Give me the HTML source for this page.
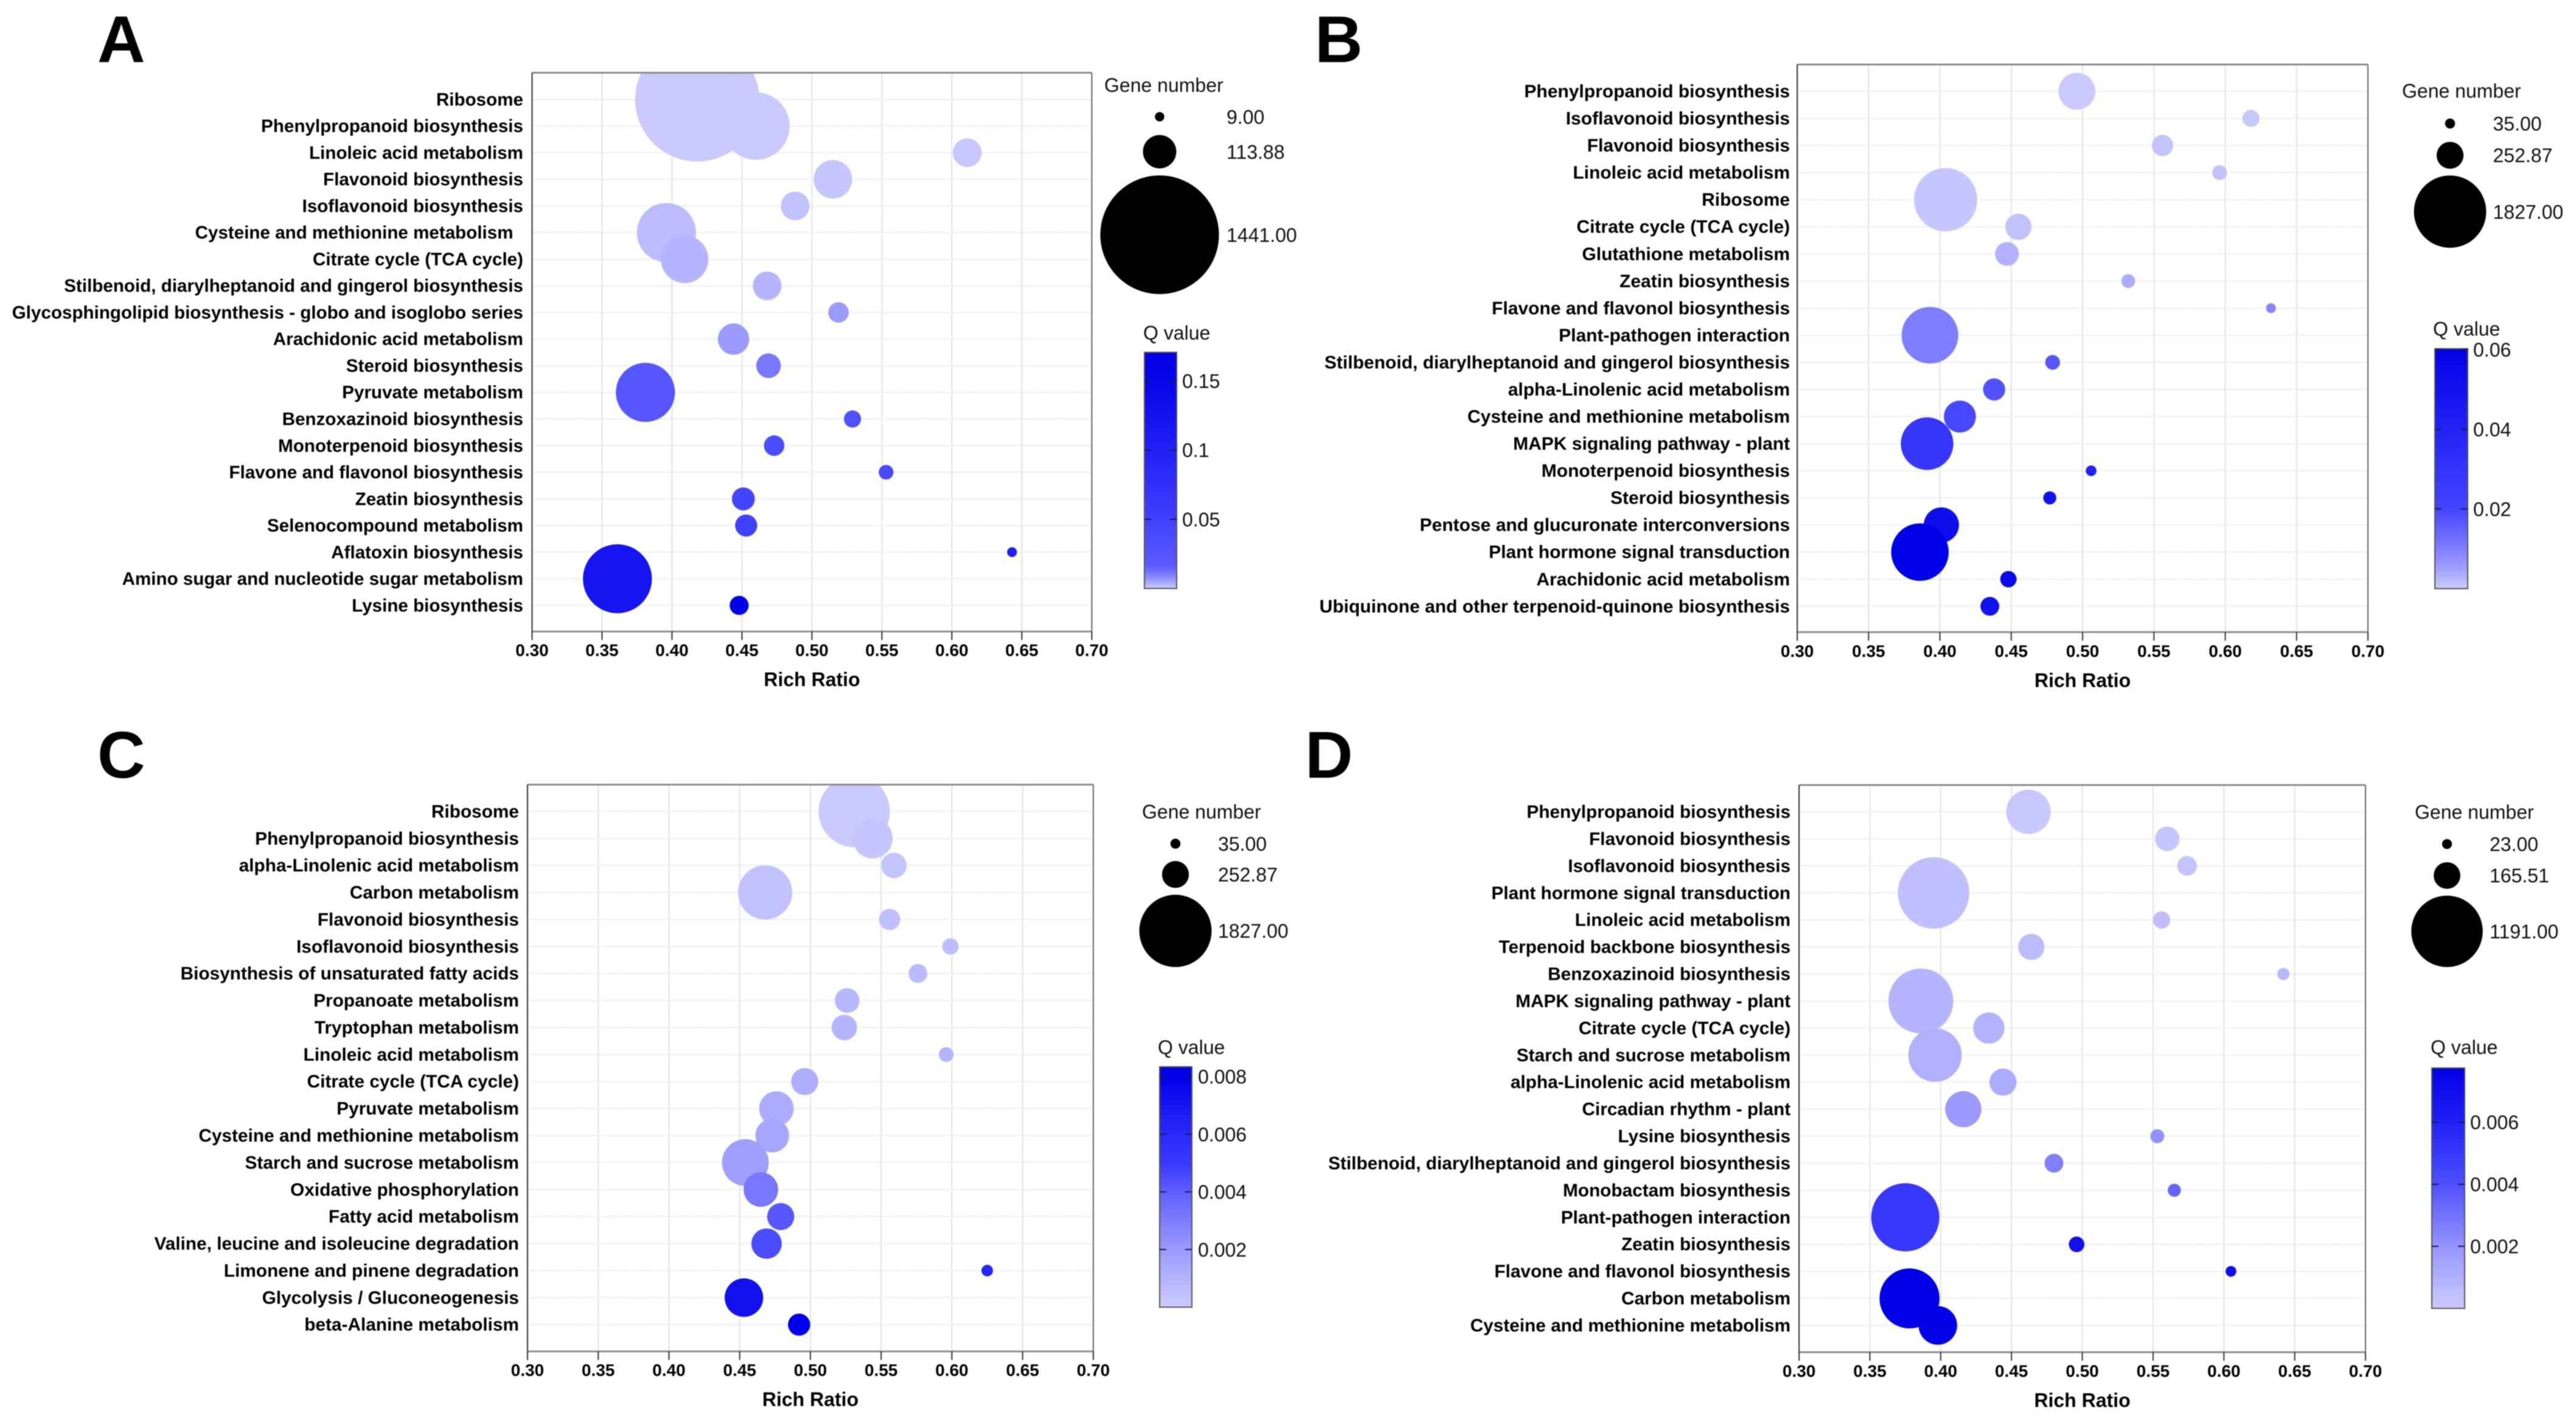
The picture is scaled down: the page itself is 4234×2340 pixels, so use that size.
<!DOCTYPE html>
<html>
<head>
<meta charset="utf-8">
<title>KEGG enrichment bubble charts</title>
<style>
html,body{margin:0;padding:0;background:#fff;}
#figure{display:block;filter:blur(0.7px);font-family:"Liberation Sans",Arial,sans-serif;}
</style>
</head>
<body>
<svg id="figure" xmlns="http://www.w3.org/2000/svg" width="4234" height="2340" viewBox="0 0 4234 2340">
<rect x="0" y="0" width="4234" height="2340" fill="#ffffff"/>
</svg>
<script>
// ---- shared axis ticks ----
var xTickValues = [0.30,0.35,0.40,0.45,0.50,0.55,0.60,0.65,0.70];
var xTickLabels = ["0.30","0.35","0.40","0.45","0.50","0.55","0.60","0.65","0.70"];

// ---- panel A ----
var categoriesA = ["Ribosome","Phenylpropanoid biosynthesis","Linoleic acid metabolism","Flavonoid biosynthesis","Isoflavonoid biosynthesis","Cysteine and methionine metabolism\u00a0\u00a0","Citrate cycle (TCA cycle)","Stilbenoid, diarylheptanoid and gingerol biosynthesis","Glycosphingolipid biosynthesis - globo and isoglobo series","Arachidonic acid metabolism","Steroid biosynthesis","Pyruvate metabolism","Benzoxazinoid biosynthesis","Monoterpenoid biosynthesis","Flavone and flavonol biosynthesis","Zeatin biosynthesis","Selenocompound metabolism","Aflatoxin biosynthesis","Amino sugar and nucleotide sugar metabolism","Lysine biosynthesis"];
var richRatioA = [0.418,0.460,0.611,0.515,0.488,0.396,0.409,0.468,0.519,0.444,0.469,0.381,0.529,0.473,0.553,0.451,0.453,0.643,0.361,0.448];
var geneCountA = [1575,465,84,152,84,358,232,84,43,100,62,358,30,43,22,54,50,10,487,37];
var qValueA = [0.0002,0.0003,0.0005,0.0007,0.0012,0.002,0.0028,0.0027,0.006,0.0062,0.0113,0.023,0.03,0.036,0.04,0.045,0.05,0.1,0.12,0.17];
var legendGenesA = [9,113.88,1441];
var legendLabelsA = ["9.00","113.88","1441.00"];
var qTickValuesA = [0.15,0.1,0.05];
var qTickLabelsA = ["0.15","0.1","0.05"];

// ---- panel B ----
var categoriesB = ["Phenylpropanoid biosynthesis","Isoflavonoid biosynthesis","Flavonoid biosynthesis","Linoleic acid metabolism","Ribosome","Citrate cycle (TCA cycle)","Glutathione metabolism","Zeatin biosynthesis","Flavone and flavonol biosynthesis","Plant-pathogen interaction","Stilbenoid, diarylheptanoid and gingerol biosynthesis","alpha-Linolenic acid metabolism","Cysteine and methionine metabolism","MAPK signaling pathway - plant","Monoterpenoid biosynthesis","Steroid biosynthesis","Pentose and glucuronate interconversions","Plant hormone signal transduction","Arachidonic acid metabolism","Ubiquinone and other terpenoid-quinone biosynthesis"];
var richRatioB = [0.496,0.618,0.556,0.596,0.404,0.455,0.447,0.532,0.632,0.393,0.479,0.438,0.414,0.391,0.506,0.477,0.401,0.386,0.448,0.435];
var geneCountB = [478,104,159,77,1400,241,198,68,34,1123,77,172,358,966,40,60,435,1157,94,124];
var qValueB = [0.0002,0.0004,0.0008,0.001,0.0006,0.0012,0.003,0.0035,0.009,0.0103,0.017,0.018,0.0195,0.028,0.04,0.05,0.052,0.06,0.055,0.05];
var legendGenesB = [35,252.87,1827];
var legendLabelsB = ["35.00","252.87","1827.00"];
var qTickValuesB = [0.06,0.04,0.02];
var qTickLabelsB = ["0.06","0.04","0.02"];

// ---- panel C ----
var categoriesC = ["Ribosome","Phenylpropanoid biosynthesis","alpha-Linolenic acid metabolism","Carbon metabolism","Flavonoid biosynthesis","Isoflavonoid biosynthesis","Biosynthesis of unsaturated fatty acids","Propanoate metabolism","Tryptophan metabolism","Linoleic acid metabolism","Citrate cycle (TCA cycle)","Pyruvate metabolism","Cysteine and methionine metabolism","Starch and sucrose metabolism","Oxidative phosphorylation","Fatty acid metabolism","Valine, leucine and isoleucine degradation","Limonene and pinene degradation","Glycolysis / Gluconeogenesis","beta-Alanine metabolism"];
var richRatioC = [0.531,0.544,0.559,0.468,0.556,0.599,0.576,0.526,0.524,0.596,0.496,0.476,0.473,0.454,0.465,0.479,0.469,0.625,0.453,0.492];
var geneCountC = [1783,564,228,1026,159,94,124,213,228,77,257,417,397,767,417,257,323,47,520,172];
var qValueC = [0.0001,0.0002,0.0003,0.0004,0.0005,0.0006,0.0007,0.0008,0.0009,0.001,0.0012,0.0013,0.0015,0.0018,0.0032,0.0042,0.0045,0.0062,0.0072,0.008];
var legendGenesC = [35,252.87,1827];
var legendLabelsC = ["35.00","252.87","1827.00"];
var qTickValuesC = [0.008,0.006,0.004,0.002];
var qTickLabelsC = ["0.008","0.006","0.004","0.002"];

// ---- panel D ----
var categoriesD = ["Phenylpropanoid biosynthesis","Flavonoid biosynthesis","Isoflavonoid biosynthesis","Plant hormone signal transduction","Linoleic acid metabolism","Terpenoid backbone biosynthesis","Benzoxazinoid biosynthesis","MAPK signaling pathway - plant","Citrate cycle (TCA cycle)","Starch and sucrose metabolism","alpha-Linolenic acid metabolism","Circadian rhythm - plant","Lysine biosynthesis","Stilbenoid, diarylheptanoid and gingerol biosynthesis","Monobactam biosynthesis","Plant-pathogen interaction","Zeatin biosynthesis","Flavone and flavonol biosynthesis","Carbon metabolism","Cysteine and methionine metabolism"];
var richRatioD = [0.462,0.560,0.574,0.395,0.556,0.464,0.642,0.386,0.434,0.396,0.444,0.416,0.553,0.480,0.565,0.375,0.496,0.605,0.378,0.398];
var geneCountD = [461,142,91,1192,70,161,35,983,228,667,172,305,46,83,40,1085,57,27,841,348];
var qValueD = [0.0001,0.0002,0.0003,0.0004,0.0005,0.0006,0.0007,0.0008,0.0009,0.001,0.0012,0.0018,0.0021,0.0026,0.0034,0.005,0.0068,0.007,0.0078,0.0077];
var legendGenesD = [23,165.51,1191];
var legendLabelsD = ["23.00","165.51","1191.00"];
var qTickValuesD = [0.006,0.004,0.002];
var qTickLabelsD = ["0.006","0.004","0.002"];

var SVGNS = "http://www.w3.org/2000/svg";
var root = document.getElementById("figure");

function mk(tag, attrs, parent) {
  var el = document.createElementNS(SVGNS, tag);
  for (var k in attrs) { el.setAttribute(k, attrs[k]); }
  parent.appendChild(el);
  return el;
}
function slug(s) {
  return s.toLowerCase().replace(/[^a-z0-9]+/g, "-").replace(/^-|-$/g, "");
}
function hex(c) {
  return "rgb(" + c[0] + "," + c[1] + "," + c[2] + ")";
}
function ramp(stops, q) {
  if (q <= stops[0][0]) { return hex([stops[0][1], stops[0][1], 255]); }
  for (var i = 1; i < stops.length; i++) {
    if (q <= stops[i][0]) {
      var t = (q - stops[i-1][0]) / (stops[i][0] - stops[i-1][0]);
      var c = Math.round(stops[i-1][1] + t * (stops[i][1] - stops[i-1][1]));
      var b = Math.round(stops[i-1][2] + t * (stops[i][2] - stops[i-1][2]));
      return hex([c, c, b]);
    }
  }
  var last = stops[stops.length-1];
  return hex([last[1], last[1], last[2]]);
}

function drawPanel(p) {
  var id = p.id.toLowerCase();
  var g = mk("g", {}, root);
  
  

  var letter = mk("text", {x:p.letterX, y:p.letterY, "font-size":109, "font-weight":"bold", fill:"#000"}, g);
  letter.textContent = p.id;
  
  

  function xScale(v) { return p.left + (v - 0.30) / (0.70 - 0.30) * (p.right - p.left); }
  function yScale(i) { return p.firstRow + i * (p.lastRow - p.firstRow) / (p.categories.length - 1); }
  var kR = p.maxRadius / Math.sqrt(p.legendGenes[p.legendGenes.length-1]);
  function rScale(n) { return kR * Math.sqrt(n); }
  function qY(q) { return p.barBottom - q / p.qMax * (p.barBottom - p.barTop); }

  // gridlines
  xTickValues.forEach(function (v, i) {
    if (i > 0 && i < xTickValues.length - 1) {
      var gl = mk("line", {x1:xScale(v), x2:xScale(v), y1:p.top, y2:p.bottom, stroke:"#e2e2e2", "stroke-width":2}, g);
      
      
    }
  });
  p.categories.forEach(function (c, i) {
    var gl = mk("line", {x1:p.left, x2:p.right, y1:yScale(i), y2:yScale(i), stroke:"#e8e8e8", "stroke-width":2.5, "stroke-dasharray":"2 1.5"}, g);
    
    
  });

  // clip + bubbles
  var clipId = "clip-" + id;
  var clip = mk("clipPath", {id:clipId}, g);
  mk("rect", {x:p.left, y:p.top, width:p.right - p.left, height:p.bottom - p.top}, clip);
  var bubbles = mk("g", {"clip-path":"url(#" + clipId + ")"}, g);
  
  
  p.categories.forEach(function (c, i) {
    var b = mk("circle", {cx:xScale(p.rich[i]), cy:yScale(i), r:rScale(p.genes[i]), fill:ramp(p.stops, p.q[i])}, bubbles);
    
    
  });

  // frame
  var ft = mk("line", {x1:p.left, x2:p.right, y1:p.top, y2:p.top, stroke:"#8c8c8c", "stroke-width":3}, g);
  
  
  var fb = mk("line", {x1:p.left, x2:p.right, y1:p.bottom, y2:p.bottom, stroke:"#8c8c8c", "stroke-width":3}, g);
  
  
  var fl = mk("line", {x1:p.left, x2:p.left, y1:p.top, y2:p.bottom + 14, stroke:"#333", "stroke-width":2}, g);
  
  
  var fr = mk("line", {x1:p.right, x2:p.right, y1:p.top, y2:p.bottom, stroke:"#666", "stroke-width":2}, g);
  
  

  // category labels
  p.categories.forEach(function (c, i) {
    var t = mk("text", {x:p.labelRight, y:yScale(i) + 10, "font-size":p.labelSize, "font-weight":"bold", "text-anchor":"end", fill:"#000"}, g);
    t.textContent = c;
    
    
  });

  // x ticks
  xTickValues.forEach(function (v, i) {
    var tk = mk("line", {x1:xScale(v), x2:xScale(v), y1:p.bottom, y2:p.bottom + 14, stroke:"#333", "stroke-width":2}, g);
    
    
    var t = mk("text", {x:xScale(v), y:p.bottom + 40.5, "font-size":28, "font-weight":"bold", "text-anchor":"middle", fill:"#000"}, g);
    t.textContent = xTickLabels[i];
    
    
  });
  var xt = mk("text", {x:(p.left + p.right) / 2, y:p.bottom + 90, "font-size":32, "font-weight":"bold", "text-anchor":"middle", fill:"#000"}, g);
  xt.textContent = "Rich Ratio";
  
  

  // size legend
  var gt = mk("text", {x:p.legendTitleX, y:p.legendTitleY + 11.5, "font-size":32, fill:"#111"}, g);
  gt.textContent = "Gene number";
  
  
  p.legendGenes.forEach(function (n, i) {
    var c = mk("circle", {cx:p.legendCx, cy:p.legendY[i], r:rScale(n), fill:"#000"}, g);
    
    
    var t = mk("text", {x:p.legendLabelX, y:p.legendY[i] + 11.5, "font-size":32, fill:"#111"}, g);
    t.textContent = p.legendLabels[i];
    
    
  });

  // color legend
  var qt = mk("text", {x:p.qTitleX, y:p.qTitleY, "font-size":32, fill:"#111"}, g);
  qt.textContent = "Q value";
  
  
  var gradId = "grad-" + id;
  var grad = mk("linearGradient", {id:gradId, x1:0, y1:1, x2:0, y2:0}, g);
  p.stops.forEach(function (s) {
    mk("stop", {offset:Math.min(1, s[0] / p.qMax), "stop-color":hex([s[1], s[1], s[2]])}, grad);
  });
  var bar = mk("rect", {x:p.barLeft, y:p.barTop, width:p.barRight - p.barLeft, height:p.barBottom - p.barTop, fill:"url(#" + gradId + ")", stroke:"#555", "stroke-width":2}, g);
  
  
  p.qTicks.forEach(function (q, i) {
    var y = qY(q);
    var t1 = mk("line", {x1:p.barLeft, x2:p.barLeft + 11, y1:y, y2:y, stroke:"#1a1a55", "stroke-width":2}, g);
    
    
    var t2 = mk("line", {x1:p.barRight - 11, x2:p.barRight, y1:y, y2:y, stroke:"#1a1a55", "stroke-width":2}, g);
    
    
    var t = mk("text", {x:p.barLabelX, y:y + 11.5, "font-size":32, fill:"#111"}, g);
    t.textContent = p.qLabels[i];
    
    
  });
}

drawPanel({id:"A", letterX:160, letterY:102, labelSize:29.6,
  left:874.5, right:1794.5, top:119.5, bottom:1037.7, firstRow:163.4, lastRow:994.8, labelRight:860,
  categories:categoriesA, rich:richRatioA, genes:geneCountA, q:qValueA,
  legendGenes:legendGenesA, legendLabels:legendLabelsA, qTicks:qTickValuesA, qLabels:qTickLabelsA,
  maxRadius:97.5, legendTitleX:1815, legendTitleY:139.6, legendCx:1906, legendY:[191.8,249.3,385.8], legendLabelX:2016,
  qTitleX:1879, qTitleY:558, barLeft:1881, barRight:1934, barTop:579, barBottom:967, barLabelX:1943, qMax:0.1707,
  stops:[[0,203,255],[0.008,138,255],[0.016,92,255],[0.05,64,255],[0.1,32,245],[0.15,5,232],[0.1707,0,230]]});

drawPanel({id:"B", letterX:2161, letterY:102, labelSize:30,
  left:2954, right:3892, top:106, bottom:1038.8, firstRow:150, lastRow:996.3, labelRight:2942,
  categories:categoriesB, rich:richRatioB, genes:geneCountB, q:qValueB,
  legendGenes:legendGenesB, legendLabels:legendLabelsB, qTicks:qTickValuesB, qLabels:qTickLabelsB,
  maxRadius:59.4, legendTitleX:3948, legendTitleY:149, legendCx:4027, legendY:[203,255.2,347.8], legendLabelX:4097.5,
  qTitleX:3999, qTitleY:551.7, barLeft:4002, barRight:4056, barTop:573, barBottom:967.3, barLabelX:4065, qMax:0.0602,
  stops:[[0,203,255],[0.005,160,255],[0.01,127,255],[0.02,68,255],[0.04,34,245],[0.0602,0,230]]});

drawPanel({id:"C", letterX:160, letterY:1278, labelSize:29.8,
  left:867, right:1797, top:1289.4, bottom:2220.7, firstRow:1333.4, lastRow:2176.7, labelRight:853,
  categories:categoriesC, rich:richRatioC, genes:geneCountC, q:qValueC,
  legendGenes:legendGenesC, legendLabels:legendLabelsC, qTicks:qTickValuesC, qLabels:qTickLabelsC,
  maxRadius:59.4, legendTitleX:1877, legendTitleY:1333.4, legendCx:1932, legendY:[1386.4,1437,1529.7], legendLabelX:2002,
  qTitleX:1903, qTitleY:1732, barLeft:1906, barRight:1959, barTop:1753, barBottom:2148, barLabelX:1969, qMax:0.00834,
  stops:[[0,203,255],[0.002,154,255],[0.004,95,255],[0.005,56,255],[0.006,42,250],[0.008,0,232],[0.00834,0,230]]});

drawPanel({id:"D", letterX:2145, letterY:1278, labelSize:29.8,
  left:2957, right:3888, top:1290, bottom:2222, firstRow:1334, lastRow:2178, labelRight:2943,
  categories:categoriesD, rich:richRatioD, genes:geneCountD, q:qValueD,
  legendGenes:legendGenesD, legendLabels:legendLabelsD, qTicks:qTickValuesD, qLabels:qTickLabelsD,
  maxRadius:58.7, legendTitleX:3969, legendTitleY:1334, legendCx:4022, legendY:[1387,1438.7,1530.4], legendLabelX:4092,
  qTitleX:3995, qTitleY:1732, barLeft:3997, barRight:4051, barTop:1755, barBottom:2150, barLabelX:4060, qMax:0.00775,
  stops:[[0,203,255],[0.002,149,255],[0.004,79,255],[0.006,32,245],[0.00775,0,230]]});
</script>
</body>
</html>
